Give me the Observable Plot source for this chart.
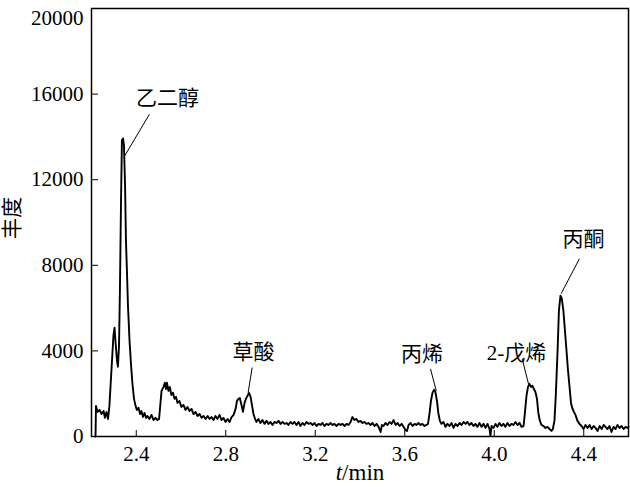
<!DOCTYPE html>
<html>
<head>
<meta charset="utf-8">
<script src="https://cdn.jsdelivr.net/npm/d3@7"></script>
<script src="https://cdn.jsdelivr.net/npm/@observablehq/plot@0.6"></script>
<style>
  html, body { margin: 0; padding: 0; background: #fff; }
  #chart { width: 630px; height: 487px; }
</style>
</head>
<body>
<div id="chart"></div>
<script>
// Retention time (min)
const times = [
  2.218, 2.220, 2.227, 2.236, 2.245, 2.254, 2.260, 2.267, 2.274, 2.280,
  2.289, 2.298, 2.303, 2.307, 2.314, 2.318, 2.323, 2.327, 2.332, 2.336,
  2.341, 2.345, 2.350, 2.354, 2.359, 2.363, 2.370, 2.377, 2.383, 2.390,
  2.397, 2.403, 2.410, 2.417, 2.423, 2.430, 2.437, 2.444, 2.450, 2.459,
  2.468, 2.477, 2.486, 2.495, 2.502, 2.506, 2.513, 2.522, 2.528, 2.533,
  2.537, 2.544, 2.550, 2.557, 2.564, 2.571, 2.578, 2.584, 2.593, 2.602,
  2.611, 2.620, 2.629, 2.638, 2.647, 2.656, 2.665, 2.674, 2.683, 2.692,
  2.701, 2.710, 2.719, 2.728, 2.736, 2.745, 2.754, 2.763, 2.772, 2.781,
  2.790, 2.799, 2.808, 2.817, 2.826, 2.835, 2.844, 2.850, 2.857, 2.863,
  2.870, 2.877, 2.884, 2.890, 2.897, 2.904, 2.911, 2.917, 2.924, 2.931,
  2.937, 2.946, 2.955, 2.964, 2.973, 2.982, 2.991, 3.000, 3.009, 3.018,
  3.027, 3.036, 3.045, 3.054, 3.063, 3.072, 3.080, 3.089, 3.098, 3.107,
  3.116, 3.125, 3.134, 3.143, 3.152, 3.161, 3.170, 3.179, 3.188, 3.197,
  3.206, 3.215, 3.224, 3.232, 3.241, 3.250, 3.259, 3.268, 3.277, 3.286,
  3.295, 3.304, 3.313, 3.322, 3.331, 3.340, 3.349, 3.358, 3.366, 3.375,
  3.384, 3.393, 3.402, 3.411, 3.420, 3.429, 3.438, 3.447, 3.456, 3.465,
  3.474, 3.483, 3.492, 3.498, 3.505, 3.514, 3.523, 3.532, 3.541, 3.550,
  3.559, 3.568, 3.577, 3.586, 3.595, 3.603, 3.610, 3.617, 3.626, 3.635,
  3.644, 3.653, 3.661, 3.670, 3.679, 3.688, 3.697, 3.704, 3.711, 3.717,
  3.724, 3.731, 3.737, 3.744, 3.750, 3.757, 3.764, 3.773, 3.782, 3.791,
  3.800, 3.809, 3.818, 3.827, 3.836, 3.845, 3.854, 3.863, 3.872, 3.880,
  3.889, 3.898, 3.907, 3.916, 3.925, 3.934, 3.943, 3.952, 3.961, 3.970,
  3.979, 3.983, 3.988, 3.997, 4.006, 4.014, 4.023, 4.032, 4.041, 4.050,
  4.059, 4.068, 4.077, 4.086, 4.095, 4.104, 4.113, 4.122, 4.131, 4.137,
  4.144, 4.151, 4.157, 4.164, 4.171, 4.177, 4.184, 4.191, 4.197, 4.204,
  4.211, 4.220, 4.229, 4.238, 4.247, 4.256, 4.262, 4.269, 4.275, 4.283,
  4.289, 4.296, 4.302, 4.309, 4.316, 4.323, 4.329, 4.336, 4.343, 4.350,
  4.356, 4.363, 4.372, 4.381, 4.390, 4.399, 4.408, 4.417, 4.426, 4.435,
  4.444, 4.453, 4.462, 4.471, 4.480, 4.489, 4.497, 4.506, 4.515, 4.524,
  4.533, 4.542, 4.551, 4.560, 4.569, 4.578, 4.587, 4.596, 4.600
];
// Abundance (丰度)
const abundance = [
  0, 1430, 1150, 1240, 1050, 1190, 870, 1150, 820, 1430,
  3070, 4710, 5080, 4470, 3540, 3260, 4240, 6810, 11030, 13840,
  13930, 13610, 11730, 9160, 7520, 6110, 4470, 3300, 2460, 1760,
  1430, 1240, 1340, 1050, 1190, 910, 1100, 870, 960, 820,
  1010, 770, 870, 770, 820, 1290, 2130, 2320, 2510, 2220,
  2510, 2130, 2320, 1940, 2040, 1760, 1850, 1570, 1660, 1380,
  1480, 1240, 1380, 1190, 1290, 1050, 1150, 960, 1050, 870,
  960, 820, 960, 820, 910, 770, 960, 820, 1010, 770,
  870, 680, 820, 680, 910, 1010, 1290, 1660, 1760, 1800,
  1480, 1150, 1570, 1760, 1900, 2040, 1850, 1480, 1050, 820,
  680, 820, 630, 770, 590, 730, 590, 680, 540, 680,
  630, 730, 590, 680, 590, 630, 540, 680, 590, 680,
  540, 680, 490, 630, 540, 680, 590, 630, 540, 630,
  490, 590, 540, 630, 490, 590, 540, 630, 540, 590,
  490, 590, 540, 590, 490, 590, 540, 680, 910, 770,
  820, 680, 730, 630, 680, 590, 630, 540, 630, 490,
  590, 450, 210, 540, 490, 630, 540, 680, 590, 770,
  540, 630, 490, 590, 450, 300, 260, 540, 630, 490,
  590, 540, 630, 540, 590, 490, 540, 590, 1100, 1660,
  2040, 2180, 2080, 1660, 1100, 730, 590, 680, 450, 590,
  490, 630, 400, 590, 490, 630, 540, 680, 590, 680,
  540, 630, 490, 590, 450, 630, 450, 590, 400, 590,
  350, 20, 490, 400, 590, 450, 630, 490, 590, 450,
  630, 490, 590, 540, 680, 540, 630, 450, 490, 1100,
  1900, 2320, 2460, 2320, 2370, 2220, 2080, 1760, 1100, 730,
  540, 490, 400, 450, 350, 260, 350, 730, 1900, 4000,
  5880, 6580, 6440, 5880, 4940, 4000, 3160, 2370, 1570, 1290,
  1150, 1010, 730, 590, 490, 350, 540, 400, 540, 350,
  490, 400, 260, 490, 350, 540, 450, 350, 490, 210,
  450, 350, 540, 400, 490, 350, 450, 400, 450
];

// Axis ticks
const xTicks = [2.4, 2.8, 3.2, 3.6, 4.0, 4.4];
const yTicks = [0, 4000, 8000, 12000, 16000, 20000];

// Peak annotations
const annLabels = ["乙二醇", "草酸", "丙烯", "2-戊烯", "丙酮"];
const annTextT  = [2.540, 2.924, 3.677, 4.099, 4.399];
const annTextV  = [15810, 3958, 3864, 3911, 9204];
const annLineT1 = [2.459, 2.918, 3.715, 4.125, 4.381];
const annLineV1 = [15060, 3223, 3162, 3630, 8314];
const annLineT2 = [2.347, 2.900, 3.741, 4.153, 4.299];
const annLineV2 = [13090, 2052, 2131, 2459, 6675];

const series = times.map((t, i) => ({t, v: abundance[i]}));
const ann = annLabels.map((label, i) => ({
  label, tx: annTextT[i], tv: annTextV[i],
  x1: annLineT1[i], y1: annLineV1[i], x2: annLineT2[i], y2: annLineV2[i]
}));

const serif = "'Liberation Serif', 'Times New Roman', serif";
const cjk = "'Liberation Serif', 'Noto Sans CJK SC', sans-serif";

const W = 630, H = 487, mL = 91, mR = 2, mT = 8, mB = 51;
const plotW = W - mL - mR, plotH = H - mT - mB;

const chart = Plot.plot({
  width: W, height: H,
  marginLeft: mL, marginRight: mR, marginTop: mT, marginBottom: mB,
  style: {fontFamily: serif, fontSize: "21px", background: "#fff", color: "#000", overflow: "visible"},
  x: {domain: [2.2, 4.6], ticks: xTicks, tickSize: 0, tickPadding: 10, tickFormat: d => d.toFixed(1), label: null},
  y: {domain: [0, 20000], ticks: yTicks, tickSize: 0, tickPadding: 8, tickFormat: d => String(d), label: null},
  marks: [
    Plot.tickX(xTicks, {x: d => d, stroke: "#000", strokeWidth: 1, insetTop: plotH - 6}),
    Plot.tickY(yTicks, {y: d => d, stroke: "#000", strokeWidth: 1, insetRight: plotW - 7}),
    Plot.line(series, {x: "t", y: "v", stroke: "#000", strokeWidth: 1.9, strokeLinejoin: "round"}),
    Plot.link(ann, {x1: "x1", y1: "y1", x2: "x2", y2: "y2", stroke: "#000", strokeWidth: 1}),
    Plot.text(ann, {x: "tx", y: "tv", text: "label", fontSize: 21, fontFamily: cjk, textAnchor: "middle", lineAnchor: "middle", fill: "#000"}),
    Plot.frame({stroke: "#000", strokeWidth: 1.5})
  ]
});

document.getElementById("chart").appendChild(chart);

const svg = d3.select(chart);
// keep the top y tick label fully inside the picture (nudge it down slightly)
svg.selectAll("text").filter(function() { return this.textContent === "20000"; })
  .attr("dy", "0.45em");

// x-axis title: t/min with italic t
const xt = svg.append("text")
  .attr("x", 360).attr("y", 480)
  .attr("text-anchor", "middle")
  .attr("font-family", serif)
  .attr("font-size", 23)
  .attr("fill", "#000");
xt.append("tspan").attr("font-style", "italic").text("t");
xt.append("tspan").text("/min");

// y-axis title
svg.append("text")
  .attr("transform", "translate(12,218) rotate(-90)")
  .attr("text-anchor", "middle")
  .attr("dominant-baseline", "central")
  .attr("font-family", cjk)
  .attr("font-size", 21)
  .attr("fill", "#000")
  .text("丰度");
</script>
</body>
</html>
